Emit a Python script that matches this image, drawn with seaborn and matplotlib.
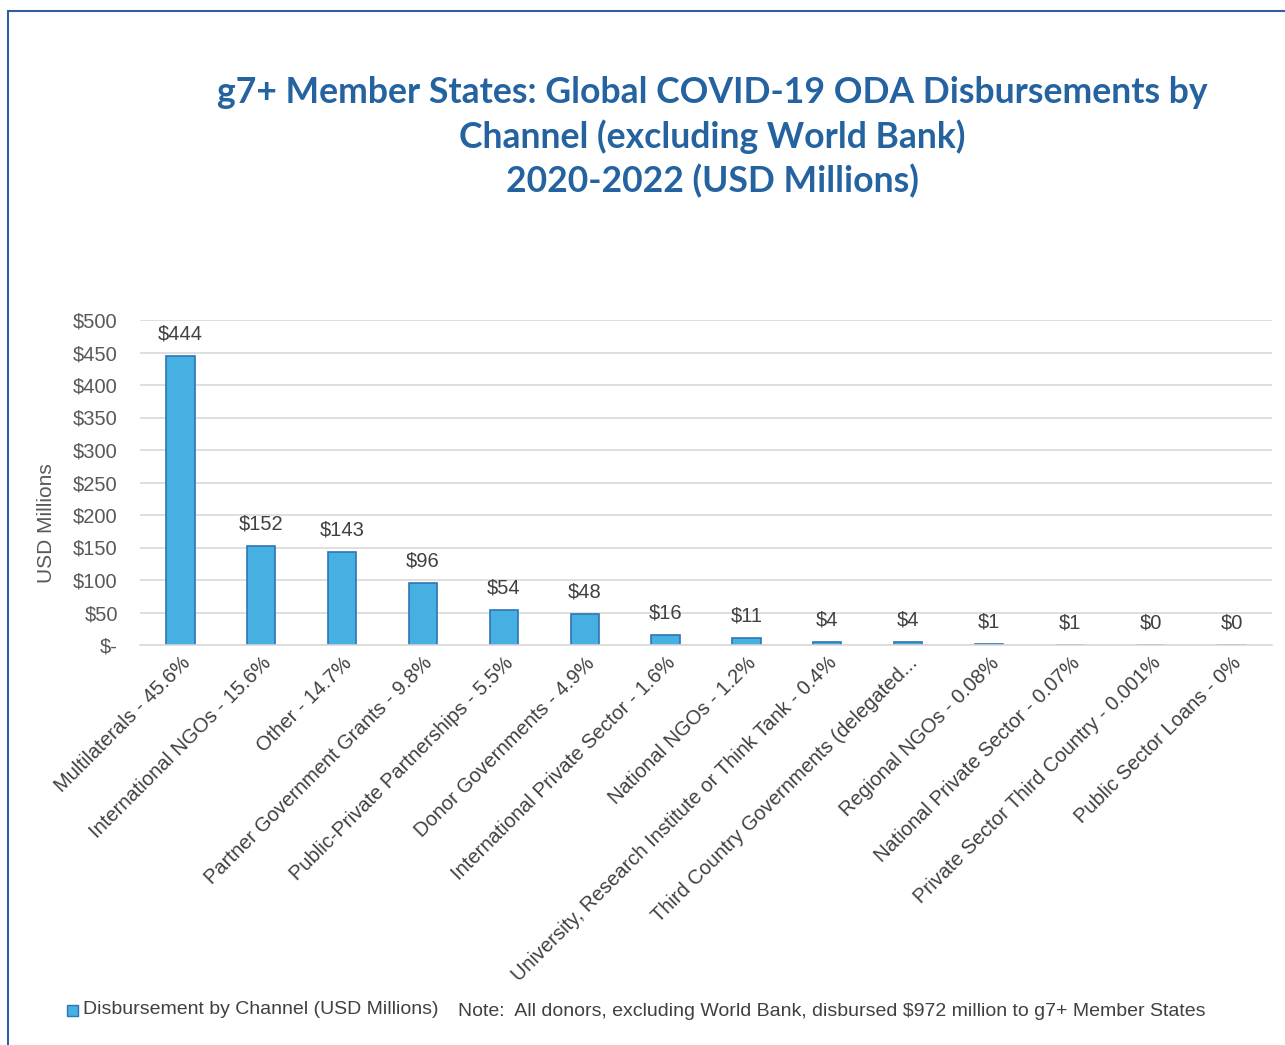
import matplotlib
matplotlib.use("Agg")
import matplotlib.pyplot as plt
import matplotlib.patches as mpatches
import seaborn as sns
import pandas as pd

channels = [
    "Multilaterals - 45.6%",
    "International NGOs - 15.6%",
    "Other - 14.7%",
    "Partner Government Grants - 9.8%",
    "Public-Private Partnerships - 5.5%",
    "Donor Governments - 4.9%",
    "International Private Sector - 1.6%",
    "National NGOs - 1.2%",
    "University, Research Institute or Think Tank - 0.4%",
    "Third Country Governments (delegated...",
    "Regional NGOs - 0.08%",
    "National Private Sector - 0.07%",
    "Private Sector Third Country - 0.001%",
    "Public Sector Loans - 0%",
]
disbursed = [444, 152, 143, 96, 54, 48, 16, 11, 4, 4, 0.8, 0.7, 0.01, 0]
y_ticks = [0, 50, 100, 150, 200, 250, 300, 350, 400, 450, 500]

df = pd.DataFrame({"channel": channels, "usd": disbursed})

sns.set_theme(style="white")
plt.rcParams["font.family"] = ["Liberation Sans", "DejaVu Sans"]

W, H = 1285, 1045
fig = plt.figure(figsize=(W / 100, H / 100), dpi=100)
ax = fig.add_axes([140 / W, 1 - 645 / H, (1272 - 140) / W, (645 - 320) / H])

sns.barplot(data=df, x="channel", y="usd", ax=ax, color="#45B0E1",
            saturation=1, width=0.35, edgecolor="#2E75B6", linewidth=1.2)

ax.set_ylim(0, 500)
ax.set_xlim(-0.5, len(channels) - 0.5)
ax.set_yticks(y_ticks)
ax.set_yticklabels(["$-" if v == 0 else f"${v}" for v in y_ticks],
                   fontsize=14.5, color="#595959")
ax.yaxis.grid(True, color="#D9D9D9", linewidth=1.2)
ax.set_axisbelow(True)
for s in ["top", "right", "left"]:
    ax.spines[s].set_visible(False)
ax.spines["bottom"].set_color("#D9D9D9")
ax.spines["bottom"].set_linewidth(1.2)
ax.tick_params(axis="both", length=0)
ax.tick_params(axis="y", pad=16)
ax.set_xticks(range(len(channels)))
ax.set_xticklabels(channels, rotation=45, ha="right", rotation_mode="anchor",
                   fontsize=14.5, color="#404040")
ax.tick_params(axis="x", pad=6)
ax.set_xlabel("")
ax.set_ylabel("")
fig.text(47 / W, 1 - 523 / H, "USD Millions", rotation=90, ha="center",
         va="center", fontsize=15, color="#595959")

for i, v in enumerate(disbursed):
    ax.annotate(f"${v:.0f}", (i, v), xytext=(0, 9), textcoords="offset points",
                ha="center", va="bottom", fontsize=14.5, color="#404040")

fig.text(712 / W, 1 - 137 / H,
         "g7+ Member States: Global COVID-19 ODA Disbursements by\n"
         "Channel (excluding World Bank)\n2020-2022 (USD Millions)",
         ha="center", va="center", fontsize=25.6, fontweight="bold",
         color="#2563A0", family=["Lato", "DejaVu Sans"], linespacing=1.36)

# legend swatch and footer note
fig.patches.append(mpatches.Rectangle((67 / W, 1 - 1016 / H), 11 / W, 11 / H,
                                      transform=fig.transFigure,
                                      facecolor="#45B0E1", edgecolor="#2E75B6",
                                      linewidth=1))
fig.text(83 / W, 1 - 1010 / H, "Disbursement by Channel (USD Millions)",
         ha="left", va="center", fontsize=14, color="#404040")
fig.text(458 / W, 1 - 1011 / H,
         "Note:  All donors, excluding World Bank, disbursed $972 million to g7+ Member States",
         ha="left", va="center", fontsize=14, color="#404040")

# chart frame
fig.patches.append(mpatches.Rectangle((8 / W, -0.05), 1.1, 1 - 11 / H + 0.05,
                                      transform=fig.transFigure, fill=False,
                                      edgecolor="#2F5F9E", linewidth=1.5))

fig.savefig("out.png", dpi=100, facecolor="white")
